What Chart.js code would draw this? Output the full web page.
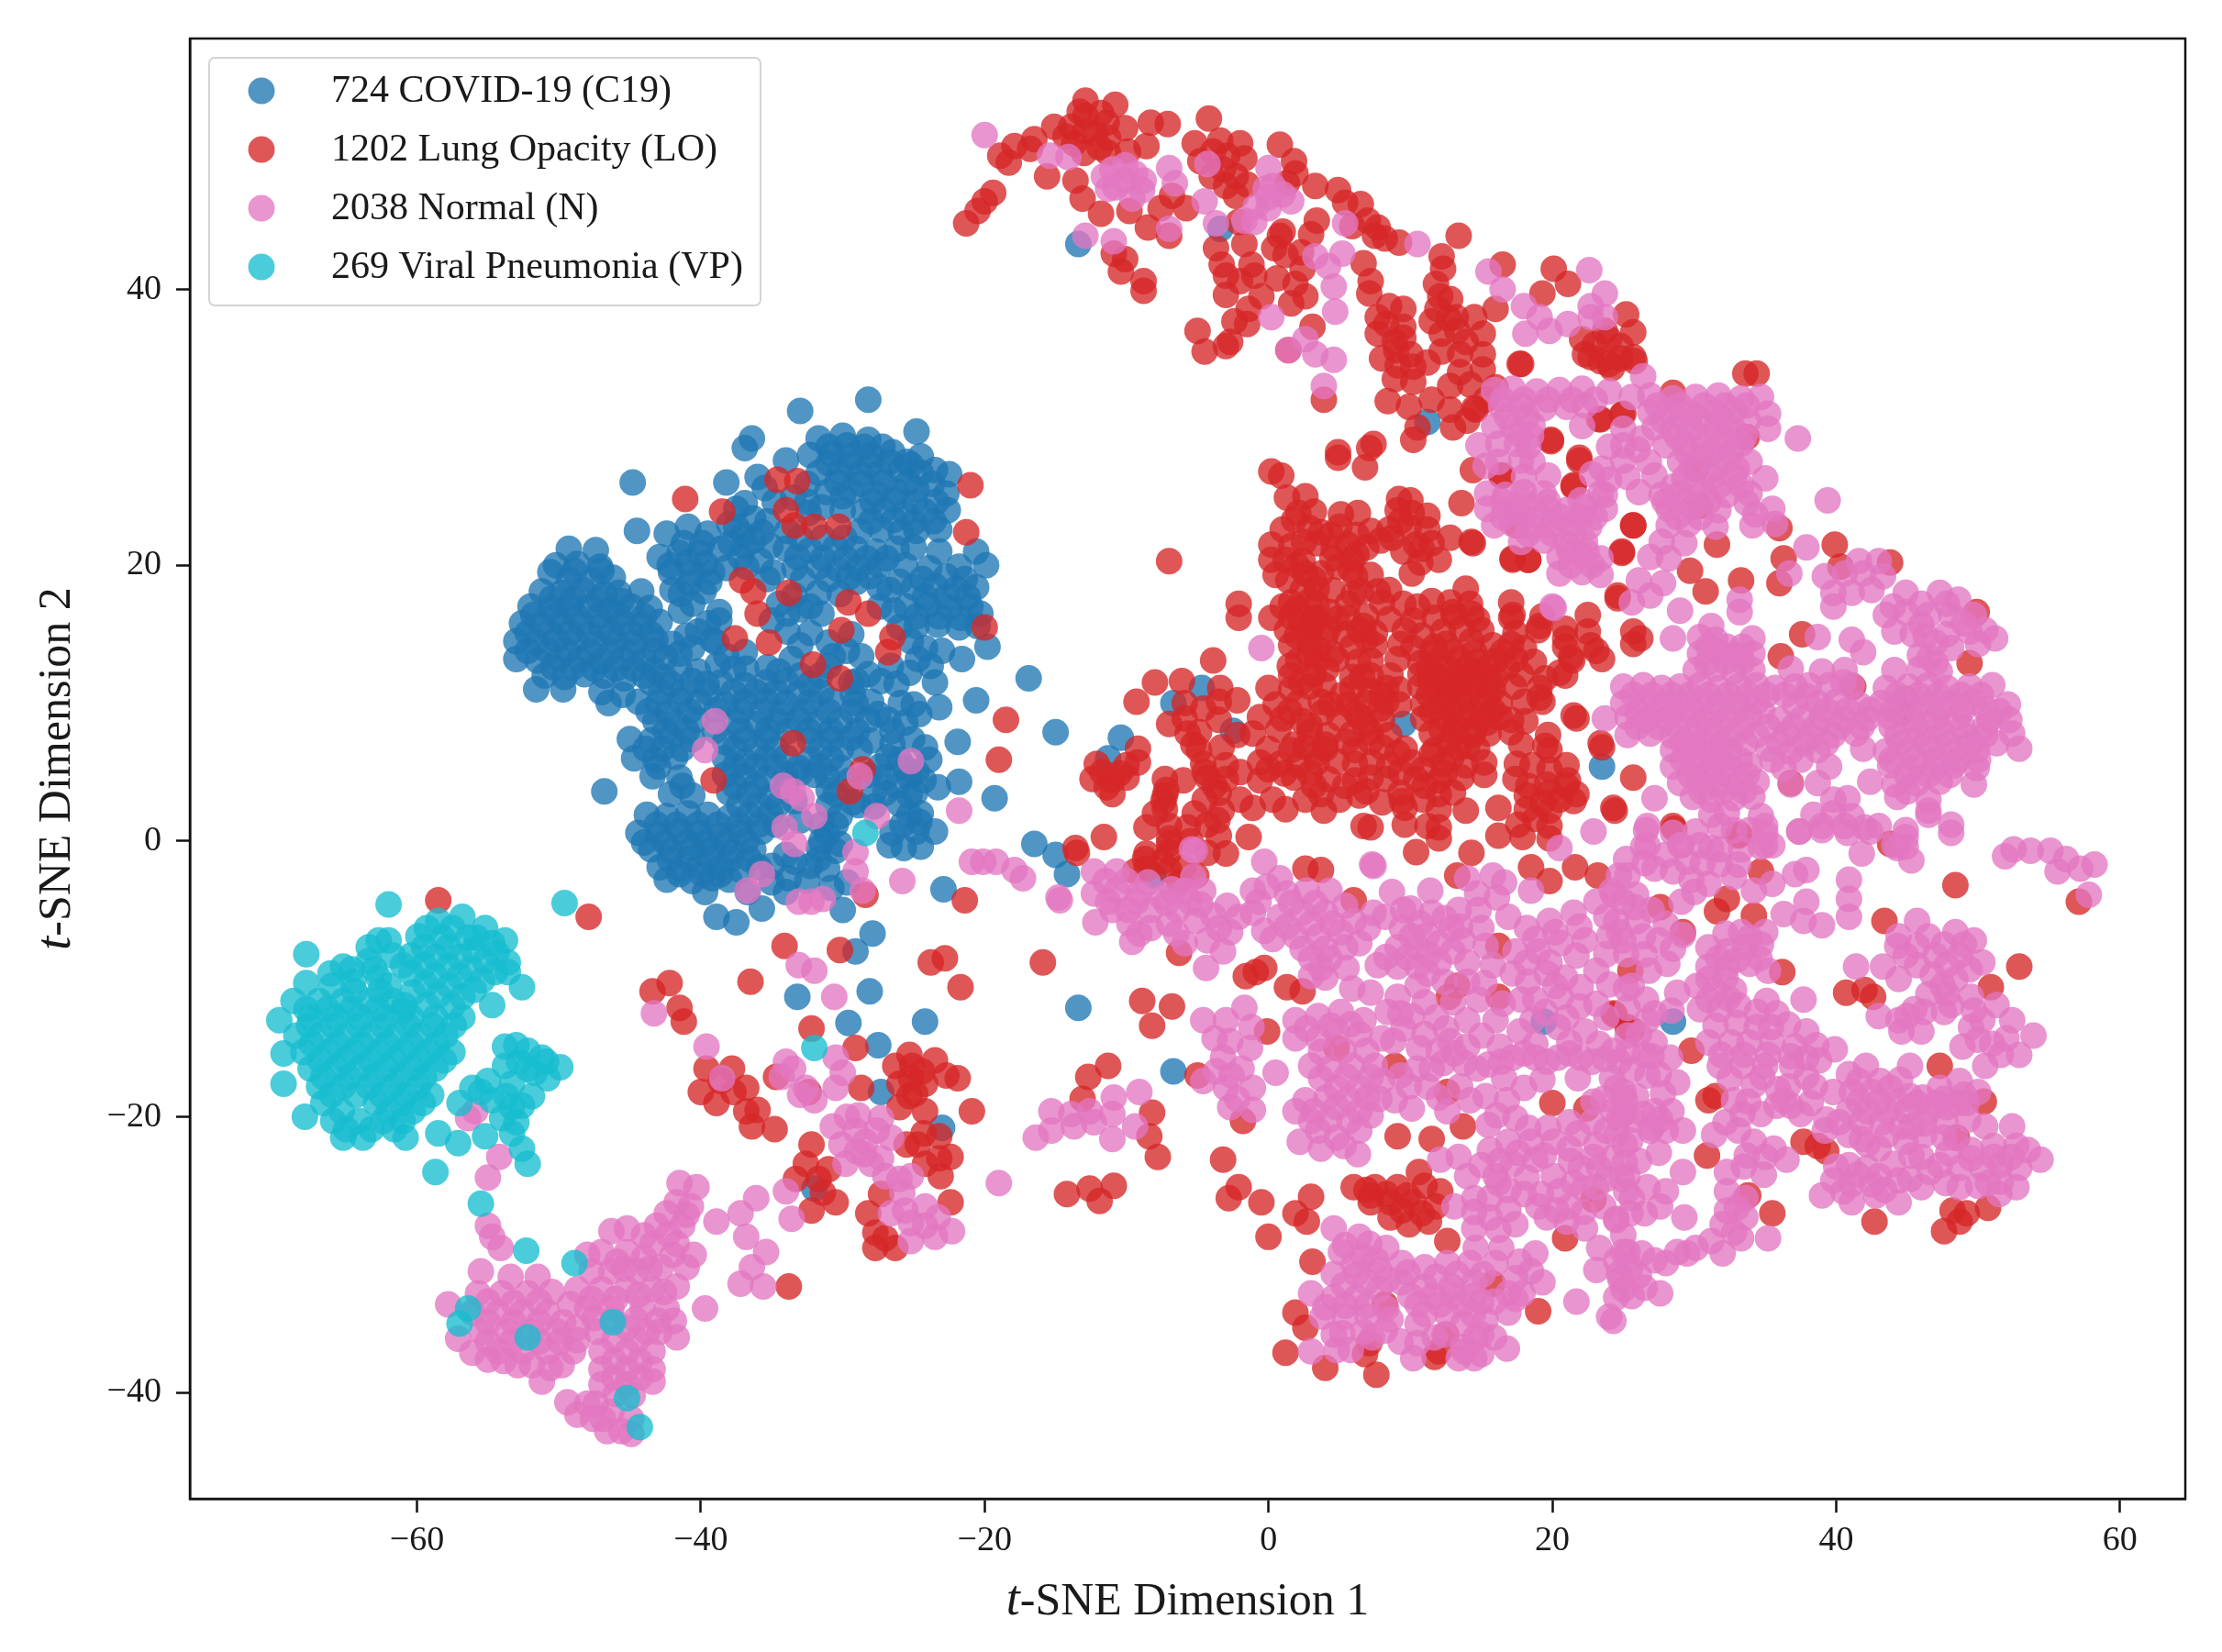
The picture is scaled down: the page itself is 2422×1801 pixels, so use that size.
<!DOCTYPE html>
<html>
<head>
<meta charset="utf-8">
<title>t-SNE Dimension plot</title>
<script src="https://cdn.jsdelivr.net/npm/chart.js@4/dist/chart.umd.js"></script>
<style>
    html, body { margin: 0; padding: 0; background: #fff; }
    canvas { display: block; }
</style>
</head>
<body>
<canvas id="chart" width="2422" height="1801"></canvas>
<script>
// Values, in t-SNE units
const xTicks = [-60, -40, -20, 0, 20, 40, 60];
const yTicks = [-40, -20, 0, 20, 40];
const seriesLabels = ['724 COVID-19 (C19)', '1202 Lung Opacity (LO)', '2038 Normal (N)', '269 Viral Pneumonia (VP)'];

const covidPoints = [
[-44.8,26],[-44.5,22.5],[-38.2,26],[-36.4,29.2],[-36.9,28.5],[-33,31.2],[-28.2,32],[-24.8,29.7],[-34,27.6],[-36,26.4],
[-49.3,21.2],[-47.4,21.1],[-50.2,20],[-48.7,20.1],[-47.1,19.9],[-49.3,19],[-47.7,18.9],[-46.2,19.1],
[-51.2,18.1],[-49.8,18],[-48.3,18.2],[-46.8,17.9],[-45.8,18],[-44.2,18.1],[-52,17],[-50.6,16.9],[-49.2,17.1],[-47.8,17],[-46.4,16.8],[-44.9,17],[-43.6,16.9],
[-52.6,15.8],[-51.2,15.7],[-49.8,15.9],[-48.4,15.8],[-47,15.6],[-45.6,15.8],[-44.2,15.7],[-42.9,15.9],
[-53,14.5],[-51.6,14.4],[-50.2,14.6],[-48.8,14.5],[-47.4,14.3],[-46,14.5],[-44.6,14.4],[-43.2,14.6],[-42,14.3],
[-53,13.2],[-51.5,13.1],[-50,13.3],[-48.5,13.2],[-47,13],[-45.5,13.2],[-44,13.1],[-42.5,13.3],[-40.6,14],
[-51,12],[-49.6,11.9],[-48.2,12.1],[-46.8,12],[-45.4,11.8],[-44,12],[-42.6,11.9],[-51.6,11],[-49.7,11],[-47,10.8],[-45.5,10.6],[-46.5,10],[-46.8,3.6],
[-50.6,19.5],[-48.9,19.6],[-47,19.6],[-50.5,17.6],[-49,17.6],[-47.2,17.5],[-45.6,17.4],[-51.8,16.4],[-50.2,16.4],[-48.8,16.4],[-47.2,16.3],[-45.8,16.4],[-44,16.3],[-52.2,15.1],[-50.6,15.1],[-49.2,15.1],[-47.8,15],[-46.3,15.1],[-44.9,15.1],[-43.5,15],[-52.2,13.8],[-50.8,13.8],[-49.4,13.8],[-47.8,13.7],[-46.3,13.8],[-44.8,13.7],[-43.2,13.8],[-41.5,13.6],[-50.4,12.6],[-49,12.6],[-47.5,12.5],[-46,12.5],[-44.7,12.5],[-43.3,12.4],[-41.5,12.5],[-40.2,12.3],
[-42.4,22.3],[-40.9,22.8],[-39.5,22.3],[-42.9,20.6],[-41.5,20.9],[-40.1,20.9],[-38.6,21.2],[-42.1,19.5],[-40.6,19.4],[-39.2,19.5],[-37.2,20.6],[-41.4,17.9],[-39.8,18.1],[-41.4,16.7],[-38.7,16.6],[-38.7,16],
[-41.2,21.6],[-39.9,21.6],[-42.2,20],[-40.9,20.2],[-39.7,20.1],[-38.2,19.8],[-40.8,18.7],[-39.4,18.8],[-42,18.2],[-40.6,17.2],[-35.7,22.4],[-35.3,23.2],[-37.5,24.1],
[-36.9,24.5],[-36.3,23.4],[-37.5,22.8],[-35.1,21.4],[-36.9,21.4],[-34.9,19.5],
[-31.7,29.2],[-30,29.4],[-28.2,29.1],[-32.3,28],[-30.8,28.1],[-29.4,27.9],[-28,28],[-26.5,28.2],[-24.5,27.9],
[-31.7,26.7],[-30.2,26.8],[-28.8,26.6],[-27.4,26.7],[-25.9,26.9],[-24.5,26.7],[-22.5,26.6],
[-31.1,25.3],[-29.4,25.4],[-27.7,25.2],[-26.2,25.3],[-24.8,25.5],[-22.7,25.2],[-28.5,23.9],[-27.1,24],[-25.6,23.8],[-24.2,23.9],[-22.6,24],
[-28.8,22.5],[-27.3,22.6],[-25.9,22.4],[-24.8,22.5],[-23.2,22.6],
[-34,21.2],[-32.3,21.1],[-30.5,21.3],[-29.1,21.2],[-27.7,21],[-26.2,21.2],[-25,21.3],[-23.2,21],
[-33.4,19.8],[-31.7,19.9],[-30.3,19.7],[-28.9,19.8],[-27.4,20],[-19.9,20],[-20.6,21],[-27.4,18.4],
[-31,28.6],[-29.7,28.7],[-28.5,28.6],[-27.2,28.6],[-25.5,27.5],[-31,27.4],[-29.5,27.3],[-28.1,27.3],[-26.7,27.5],[-25.2,27.3],[-23.5,26.9],[-30.4,26],[-28.7,25.9],[-27.1,26],[-25.4,26],[-23.7,25.9],[-27.9,24.6],[-26.4,24.7],[-24.9,24.6],[-23.4,24.6],[-28,23.2],[-26.4,23.3],[-25,23.1],[-23.6,23.2],[-33.2,20.6],[-31.4,20.5],[-29.8,20.5],[-28.3,20.5],[-26.9,20.5],[-25.6,20],[-32.8,19],[-31,19],[-29.6,19.1],[-28.1,19.2],[-33,16.8],[-31.5,16.5],[-31,14.4],[-29.7,13.8],[-33,14.2],[-34.5,12.3],[-33,12],[-29,11.6],
[-34.8,24.6],[-33.5,24.9],[-35.5,25.6],[-32.5,24.6],[-31.5,24.2],[-30,24],[-32.4,23.8],[-30,25],[-32.5,25.9],[-33.9,22.5],[-33,22],[-31.4,22],[-29.9,22],[-36.3,21.8],[-37.9,21.6],[-38,23],[-37,22.2],[-35.3,19],[-36.8,19.9],[-35.8,20.3],[-34.5,17.2],[-35,16],[-33.9,16.5],[-32.3,17],[-30.2,17.9],[-29,18.8],[-26.7,18.2],[-27.4,17],[-26,18.8],[-26.4,16.7],[-25.2,14.5],[-26,15.5],[-24.7,13.2],[-23,13.8],[-23.8,12.7],[-26.6,12.7],[-27.3,11.6],[-31,12.7],[-31.6,12],[-36.8,12.5],[-37.7,12.5],[-38.8,12.8],[-39.6,11.4],[-39.5,15.8],[-40.2,15.2],[-39.2,14.6],[-38.9,14.4],[-41,14.9],
[-23.9,19.8],[-21.8,19.9],[-25,18.4],[-23.5,18.5],[-22,18.3],[-20.6,18.4],[-25.5,17],[-24,17.1],[-22.5,16.9],[-21,17],[-24.8,15.6],[-23.3,15.7],[-21.8,15.5],[-20.5,15.6],
[-24.4,19],[-22.7,19.2],[-21.4,19],[-24.2,17.7],[-22.7,17.7],[-21.2,17.7],[-24.8,16.3],[-23.2,16.3],[-21.7,16.2],[-20.3,16.5],
[-33.4,17.8],[-31.7,18],[-33.9,15.2],[-32.3,15.1],[-29.4,15],[-38.2,13.4],[-36.9,13.7],[-35.3,12.6],[-33.6,13.2],[-30.7,13.4],[-28.7,13.4],[-28.2,12.1],
[-43.5,11.5],[-42.1,11.4],[-40.6,11.6],[-38.6,11.5],[-36.9,11.3],[-35.4,11.5],[-34,11.6],[-32.3,11.4],[-29.4,11.5],[-26.2,11.4],
[-44.4,10.1],[-43,10],[-41.5,10.2],[-40.1,10.1],[-38.3,9.9],[-36.9,10.1],[-35.4,10.2],[-34,10],[-32.3,10.1],[-30.8,10.2],[-29.1,10],[-28,10.1],[-25.9,10],
[-43.2,8.7],[-41.8,8.6],[-40.3,8.8],[-37.5,8.7],[-36,8.5],[-34.6,8.7],[-33.1,8.8],[-31.7,8.6],[-30.2,8.7],[-28.2,8.8],[-25.6,8.6],
[-45,7.4],[-43.5,7.3],[-42.1,7.5],[-40.6,7.4],[-38.3,7.2],[-36.9,7.4],[-35.4,7.5],[-32.3,7.3],[-30.8,7.4],[-29.4,7.5],[-28,7.3],[-25.1,7.4],
[-44.7,6],[-43.2,5.9],[-41.8,6.1],[-38.3,6],[-36.9,5.8],[-35.4,6],[-34,6.1],[-32.3,5.9],[-30.8,6],[-26.8,6.1],[-23.9,5.9],
[-43.4,4.7],[-41.5,4.6],[-38.3,4.8],[-36.9,4.7],[-35.4,4.5],[-31.1,4.7],[-28.2,4.8],[-27,4.6],[-25.3,4.7],
[-42.1,3.4],[-40.6,3.3],[-38,3.5],[-36.6,3.4],[-35.1,3.2],[-30.5,3.4],[-27,3.5],[-25.3,3.3],
[-43.8,1.9],[-42.4,1.8],[-40.9,2],[-39.5,1.9],[-38,1.7],[-36.6,1.9],[-35.1,2],[-30.2,1.8],[-25.3,1.9],[-24.5,2],
[-44.4,0.6],[-43,0.5],[-41.5,0.7],[-40.1,0.6],[-38.6,0.4],[-37.2,0.6],[-35.7,0.7],[-31.1,0.5],[-26.5,0.6],[-24.8,0.7],
[-43.5,-0.6],[-42.1,-0.7],[-40.6,-0.5],[-39.2,-0.6],[-37.8,-0.8],[-36.3,-0.6],[-31.7,-0.5],[-30.5,-0.7],
[-42.9,-1.9],[-41.5,-2],[-40.1,-1.8],[-38.6,-1.9],[-37.2,-2.1],[-35.9,-1.9],[-32.3,-1.8],[-31.1,-2],
[-42.4,-2.8],[-40.6,-2.9],[-39.2,-2.7],[-38,-2.8],[-32.5,-2.9],[-39.7,-3.7],[-36.7,-3.7],[-34,-3.7],[-35.7,-4.9],
[-42.8,10.8],[-41.3,10.8],[-39.5,10.8],[-37.7,10.8],[-36.1,10.8],[-34.7,10.8],[-33.1,10.7],[-31.5,10.8],[-29.3,10.7],[-43.7,9.4],[-42.3,9.3],[-40.8,9.4],[-38.9,9.5],[-37.2,9.4],[-35.7,9.4],[-34.3,9.3],[-32.7,9.4],[-31,9.4],[-29.3,9.4],[-27.5,9.2],[-26.8,8.8],[-42.5,8],[-41,8],[-39,8],[-37.2,8],[-35.3,8],[-33.8,8],[-32.4,8],[-30.8,8],[-29,8],[-26.5,8],
[-43.9,6.7],[-42.7,6.7],[-41.3,6.7],[-37.6,6.7],[-36.1,6.7],[-34.7,6.7],[-31.6,6.7],[-30.1,6.7],[-28.8,6.7],[-26.5,7],[-37.6,5.4],[-36.1,5.4],[-34.7,5.4],[-33.1,5.3],[-31.6,5.4],[-30.1,5.3],[-43,5.4],[-27.4,5.4],[-25.6,5.3],[-37.6,4],[-36.1,4],[-34,4.8],[-33,4.9],[-32,4.8],[-31,3.7],[-29.5,4.4],[-26.2,4],[-41.3,4],[-37.3,2.6],[-35.9,2.6],[-34.5,2.7],[-31,2.6],[-29.3,2.8],[-26,2.7],
[-43.1,1.2],[-41.7,1.2],[-40.2,1.2],[-38.8,1.2],[-37.3,1.2],[-35.9,1.2],[-34.7,1.2],[-31.5,1.2],[-30.5,1.2],[-25.8,1.2],[-44,-0.1],[-42.5,-0.1],[-41,-0.1],[-39.6,-0.1],[-38.2,-0.1],[-36.8,0],[-31.5,0],[-42.2,-1.3],[-40.8,-1.3],[-39.4,-1.2],[-37.9,-1.3],[-36.6,-1.3],[-31.7,-1.3],[-41.5,-2.4],[-39.9,-2.4],[-38.6,-2.4],[-35,-3],
[-34,4],[-33.4,2.9],[-33,1.5],[-34,-1],[-35,-1.8],[-33.4,-1.5],[-33.8,-2.7],[-30.2,-0.2],[-29.7,-3],[-30.8,-3.4],[-27.8,3.5],[-27.8,2.5],[-28.9,2.6],[-24.9,3.5],[-24.3,4.4],[-24.2,6.8],[-26,5.9],[-24.6,9.2],[-25,9.9],[-24.8,5],[-23.5,0.7],[-24.6,1.4],[-26.7,-0.3],[-25.7,-0.5],[-24.5,-0.4],
[-16.9,11.8],[-20.6,10.2],[-15,7.9],[-21.9,7.2],[-21.8,4.3],[-23.3,3.9],[-19.3,3.1],[-16.5,-0.2],[-15,-1],[-14.2,-2.4],[-22.9,-3.5],[-30,-5],[-27.9,-6.7],[-38.9,-5.5],[-37.5,-5.9],
[-23.5,11.5],[-23.2,9.7],[-21.6,13.2],[-19.8,14.1],[-25.3,12.2],[-24.2,14],
[-33.2,-11.3],[-28.1,-10.9],[-29.6,-13.2],[-24.2,-13.1],[-27.5,-14.8],[-29.1,-8],[-27.3,-18.2],[-23,-20.8],[-32,-25.2],
[-13.4,-12.1],[-6.7,-16.7],[-6.7,10],[-4.7,11.1],[-10.4,7.5],[-11.3,6],[9.5,8.5],[-2.5,8],[23.5,5.4],[28.5,-13.1],[19.4,-13.1],[-8.1,-2.5],[-3.4,44.4],[11.2,30.4],[-13.4,43.3]
];

const opacityPoints = [
[-41.1,24.8],[-38.5,23.9],[-34.6,26.2],[-33.2,26.1],[-34,24],[-33.4,22.9],[-32,22.8],[-30.3,22.8],[-37.1,18.9],[-36.3,18.1],[-36,16.5],[-37.6,14.7],[-35.2,14.4],[-33.8,18],[-29.6,17.3],[-28.2,16.5],[-26.5,14.8],[-26.8,13.7],[-30.1,15.3],[-32.1,12.8],[-30.2,11.8],[-21,25.8],[-21.3,22.4],[-20,15.5],[-33.5,7.1],[-39.1,4.4],[-28.6,5.2],[-29.5,3.6],[-18.5,8.8],[-19,5.9],[-13.6,-0.5],[-58.5,-4.3],[-47.9,-5.5],
[-43.4,-10.9],[-42.2,-10.3],[-41.5,-12.1],[-41.2,-13.1],[-36.5,-10.2],[-34.1,-7.6],[-30.2,-7.9],[-23.8,-8.8],[-22.8,-8.5],[-21.7,-10.6],[-32.2,-13.6],[-29.1,-15],[-21.4,-4.3],[-28.4,-3.9],
[-39.6,-16.5],[-37.8,-16.5],[-40,-18.2],[-38.9,-19],[-36.8,-17.9],[-36.8,-19.6],[-36.4,-20.7],[-34.8,-20.9],[-34.7,-17.1],[-32.4,-18.2],[-28.7,-17.9],[-26.3,-16.3],[-25.1,-16.3],[-23.5,-15.9],[-21.9,-17.2],[-26,-17.6],[-24.2,-17.6],[-26,-19.3],[-24.2,-19.6],[-20.9,-19.6],
[-32.2,-22],[-24.7,-22],[-22.4,-22.9],[-33.3,-24.5],[-24.2,-23.4],[-23.1,-24.3],[-32.6,-23.4],[-30.5,-26.2],[-32.2,-26.8],[-27.7,-28.4],[-27.7,-29.5],[-26.3,-29.5],[-22.4,-26.2],[-27.3,-25.6],[-33.8,-32.3],
[-25.3,-15.5],[-25.2,-17.2],[-24.4,-16.7],[-22.7,-17],[-25.3,-18.5],[-24.9,-18.3],[-23.2,-21.4],[-24.3,-21.2],[-23.2,-23],[-25.5,-22],[-27,-28.8],[-28.2,-27],[-31.4,-25.5],[-31,-23.8],[-31.7,-24.5],[-38.6,-17.4],[-37.7,-18.2],[-36,-19.5],
[-18.9,49.7],[-17.9,50.4],[-16.5,50.9],[-15.1,51.8],[-12.9,53.7],[-10.8,53.4],[-12.9,52.6],[-11.4,52.1],[-12.9,51.5],[-11.3,51],[-10.1,51.7],[-8.3,52.1],[-7.1,52],[-8.6,50.4],[-4.2,52.4],[-13.7,50.6],[-15.6,48.2],[-13.6,47.9],[-5.2,50.6],[-3.4,50.8],[-2,50.6],[-4.8,49.3],[-1.7,49.5],[-4,48.2],[-2.3,48.2],[-2.3,46.8],[0.8,50.5],[1.8,49.3],[1.9,48.4],[3.3,47.5],[4.9,47.2],[5.4,46.3],[3.4,45],[7,45],[7.5,43.9],[9.2,43.4],[13.4,43.9],
[-13.3,52.9],[-11.8,52.8],[-12.2,51.3],[-11.9,50.3],[-13.9,51.8],[-13,49.9],[-11.3,49.9],[-9.9,50],[-14.3,51.1],[-16.8,50.2],[-18.3,49.2],[-3.9,50],[-2.9,49.7],[-3.2,48.7],[-3,47.5],[-1.5,47.6],[1.3,47.7],[7.7,44.5],[8.2,43.7],[5.9,44.6],
[-13.1,46.6],[-11.8,45.5],[-9.8,45.7],[-7.6,45.9],[-5.8,45.9],[-7,43.9],[-1.7,43.3],[1,44.2],[0.4,43],[-1.2,41.8],[-3.3,41.8],[-10.9,42.6],[-10.1,42.2],[-8.8,40.6],[-8.8,39.9],[-21.3,44.8],[-20.5,45.7],[-19.4,47],[-20,46.4],
[-3,39.6],[-1.4,38.6],[-2.4,37.7],[-2.7,36.2],[-4.5,35.5],[0.6,40.8],[1.9,40.4],[2.6,39.5],[1.6,39],[3.1,37.3],[1.4,35.6],[3.9,32],
[-6.8,46.8],[-8.5,44.5],[-10.4,41.3],[-2.1,44.9],[-3.7,43],[-3,41],[-2,40.6],[2.3,42.7],[2.4,41.5],[6.5,46.2],[3,44],[6.7,41.9],[7.7,38],[8,35],[9.1,34.5],[-5,37],[-3,35.9],[-1.5,37.5],[-0.5,39.5],[-1,41],
[7.2,40.6],[7.1,39.7],[8.5,38.8],[9.5,38.6],[7.7,36.8],[8.9,36.2],[9.5,37.3],[10.2,34.4],[12.2,42.4],[12.3,41.5],[11.8,40.4],[12.8,39.3],[11.5,37.7],[13.2,38],[14.5,38],[12.2,36.8],[15.1,36.8],[12.2,35.5],[13.5,35.3],[15.1,35.3],[15.1,34.2],[8.9,33.5],[10.2,33.3],[12.8,33],[12.8,31.3],[8.4,31.9],[9.9,31.5],[11.5,32],[14.5,31.4],[16,32.9],[16,38.6],[16.5,41.8],[17.8,34.6],
[1.2,42.5],[0.8,43.9],[12.1,39.5],[12.7,37.9],[13.3,37],[13.9,36.2],[11.9,38.6],[13.5,34],[11.2,34.7],[14.2,33.1],[10.5,30],[9.5,36.5],[9,35.6],[8.3,37.5],[10,35.3],[15.3,32],[14,30.5],[13,30],[23,36],[24.8,35.9],[23.7,37],
[20.1,41.5],[21.1,40.4],[19.3,39.7],[25.2,38.2],[25.7,36.9],[22.1,36.4],[24,36.4],[22.7,35.1],[24,34.6],[25.7,35.1],[25,31],[23.4,30.6],[19.9,29.1],[10.2,29.1],[7.4,28.8],[4.9,28.2],
[-7,20.3],[0.2,26.8],[0.9,26.5],[4.9,27.8],[7.1,28.5],[6.8,27.1],[-2.1,16.2],[-3.9,13.1],[-8,11.5],[-9.3,10.1],[-6.1,11.6],[-3.4,11.1],[-2.2,10.2],
[13.6,24.5],[14.3,21.7],[17.2,20.5],[18.3,20.4],[16.5,26.5],[21.5,25.8],[21.9,27.8],[25.7,22.9],[24.9,21],[24.6,17.8],
[1.3,24.9],[2.6,25],[9.2,24.8],[2.1,23.8],[3.2,23.9],[5.1,23.7],[6.3,23.8],[9.1,24],[10.1,23.8],
[1,22.6],[2.9,22.7],[7.2,22.5],[8.5,22.6],[9.9,22.8],[11.2,22.6],[0.2,21.5],[1.6,21.4],[3.4,21.6],[5.6,21.5],[6.9,21.3],[10.4,21.5],[11.5,21.6],
[0.2,20.4],[2.4,20.3],[4.5,20.5],[5.9,20.4],[10.7,20.2],[12,20.4],[0.5,19.3],[3.7,19.4],[6.1,19.2],[7.2,19.3],[10.1,19.4],
[2.4,18.2],[3.4,18.3],[7.7,18.1],[8.5,18.2],[13.9,18.3],[1.6,17.3],[2.9,17.4],[5.6,17.2],[8,17.3],[11.5,17.4],[12.8,17.3],[14.2,17.2],[17.1,17.3],
[0.2,16.2],[1.6,16.3],[3.2,16.1],[5.6,16.2],[6.9,16.3],[8.5,16.1],[11.7,16.2],[13.1,16.3],[14.7,16.1],[17.1,16.2],[19.3,16.3],
[1.3,15.3],[2.9,15.2],[4.2,15.4],[6.4,15.3],[7.5,15.1],[9.6,15.3],[12.3,15.2],[13.6,15.4],[15,15.3],[17.4,15.1],[19,15.3],[20.9,15.4],[22.5,15.2],
[1.6,14.2],[2.9,14.3],[5.9,14.1],[7.5,14.2],[9.3,14.3],[11.7,14.1],[15.8,14.2],[17.1,14.3],[20.9,14.1],[22.7,14.2],[25.7,14.3],
[2.1,13.1],[3.4,13],[4.8,13.2],[7.2,13.1],[10.7,12.9],[12,13.1],[13.4,13.2],[14.7,13],[16,13.1],[17.4,13.2],[18.7,13],[21.4,13.1],[23.5,13.2],
[1.6,12],[3.2,12.1],[5.9,11.9],[7.2,12],[10.7,12.1],[12,11.9],[13.4,12],[14.7,12.1],[16,11.9],[20.9,12],
[0,11.1],[1.6,11],[2.9,11.2],[5.9,11.1],[7.2,10.9],[8.3,11.1],[10.7,11.2],[12,11],[13.4,11.1],[14.7,11.2],[15.8,11],[19.1,11.1],
[-5.9,10],[-3.5,10.1],[0.5,9.9],[2.1,10],[3.7,10.1],[5.6,9.9],[6.9,10],[8.3,10.1],[10.9,9.9],[12.3,10],[13.6,10.1],[15,9.9],[16.3,10],[19.3,10.1],
[-5.9,8.9],[-3.5,8.8],[-0.6,9],[1,8.9],[2.4,8.7],[5,8.9],[6.4,9],[8,8.8],[10.9,8.9],[12.3,9],[13.6,8.8],[15,8.9],[16.3,9],[17.1,8.8],[21.7,8.9],
[-5.7,7.8],[-4.9,7.9],[-2.2,7.7],[-1.1,7.8],[2.9,7.9],[4.2,7.7],[5.9,7.8],[7.2,7.9],[8.5,7.7],[11.5,7.8],[13.1,7.9],[14.4,7.7],[15.5,7.8],[17.1,7.9],[19.7,7.7],
[-9.2,6.7],[-4.9,6.6],[-3.3,6.8],[0,6.7],[1.6,6.6],[2.6,6.8],[4,6.7],[6.1,6.6],[8,6.8],[9.6,6.7],[11.7,6.6],[13.4,6.8],[14.7,6.7],[19.8,6.6],[23.5,6.8],
[-12.1,5.6],[-10,5.5],[-9.2,5.7],[-4.6,5.6],[-3,5.5],[-0.6,5.7],[0.8,5.6],[2.1,5.5],[3.4,5.7],[6.1,5.6],[8.5,5.5],[10.1,5.7],[12.3,5.6],[13.9,5.5],[15.2,5.7],[17.5,5.6],[21,5.5],
[-12.4,4.5],[-11,4.4],[-10,4.6],[-7.3,4.5],[-6,4.4],[-4.3,4.6],[-3,4.5],[-0.6,4.4],[1.8,4.6],[4.2,4.5],[6.1,4.4],[7.2,4.6],[10.4,4.5],[12,4.4],[13.6,4.6],[17.4,4.5],[21.1,4.4],
[-11,3.4],[-7.3,3.3],[-3.5,3.5],[3.7,3.4],[6.4,3.3],[9.3,3.5],[12,3.4],[18.2,3.3],[19.8,3.5],[21.7,3.4],
[-7.3,2.3],[-3.3,2.2],[-1.1,2.4],[1.2,2.3],[3.9,2.2],[9.6,2.4],[12,2.3],[13.9,2.2],[16.2,2.4],[18.2,2.3],[19.8,2.2],[24.3,2.4],
[-7,1.1],[-5.7,1],[-4.3,1.2],[6.7,1.1],[7.2,1],[9.6,1.2],[11.2,1.1],[12,1],[17.6,1.2],[19.8,1.1],
[3.7,22.4],[1.8,23.3],[2,20],[1.4,18.9],[3.2,19],[4.5,18.2],[2.3,15.8],[4,14.8],[3,15.5],[4.8,16.1],[2.9,13.5],[4.1,12.5],[1.5,12.7],[2.3,11.5],[3.9,11.3],[6.3,13],[6.6,11.9],[8,10.6],[7.9,9.6],[5.2,10.6],[4.4,9.9],[6.2,9.3],[3.8,9.3],[1.5,9.4],[2.9,8.4],[0.7,8.1],[5.5,7.2],[7.2,7.2],[6.8,8.4],[4,7],[1.8,7],[3.4,6.3],[4.8,5.8],[7.3,5.7],[9.1,6.4],[9.3,5],[10.9,5.2],[8.3,4.5],[11.5,6.3],[12.9,6.1],[12.7,7.2],[14,6.9],[12.2,8.1],[13.2,8.4],[14.5,8.1],[15.4,8.6],[11.5,9.4],[12.9,9.5],[14.3,9.4],[15.8,9.5],[11.3,10.6],[12.7,10.6],[14,10.5],[15.5,10.6],[11.4,11.6],[12.7,11.5],[14.1,11.6],[15.5,11.6],[11.3,12.6],[12.7,12.5],[14,12.6],[15.4,12.6],[16.8,12.6],[11.5,13.7],[13,13.7],[14.5,13.7],[16.5,13.7],[18,14],[12.5,14.3],[14.3,14.5],[13,16.6],[14.3,16.5],[6.2,22.2],[7.9,21.8],[6.2,20.8],[8.7,22],[9.5,21],[10.8,21.2],[9.3,23.2],[2,16.8],[3.4,17.2],[5.4,15],[6.9,14.7],[-7,8.5],[-4.6,9.6],[-5.3,7],[-4.5,5],[-3.8,4],[-2,5],[0,5.2],[1.1,4.9],[2.9,4.9],[3.2,4],
[5.4,4],[6.9,3.6],[9.4,2.9],[10.9,3],[11,4],[12.4,4.9],[13,3.5],[15.2,4.8],[18.3,4],[19.6,4.1],[21,4],[21.5,2.9],[20.5,3],[19.3,2.8],[18.8,1.6],[-11.7,5],[-10.5,4.9],[-11.4,3.9],[-7.2,3.7],[-7.4,2.9],[-5.2,2],[-3.6,1.5],[-8.7,-1.3],[-7.5,-1.5],[7.2,-25.7],[8.3,-25.6],[9.8,-25.7],[11,-25],[6.9,-25.3],[9.4,-26.8],[10.8,-27],[-2.1,17.2],
[4.4,22.2],[5,22.8],[4.6,21.2],[2.5,21.7],[1.2,20.4],[2.6,19.4],[4.9,19.9],[5.8,19.7],[3.4,16.2],[4.3,16.6],[2,14.9],[4.5,13.6],[6.7,15.6],[6,17.9],[6.5,18.1],[9.5,17.2],[10.5,17],[10.2,16],[10.8,14.9],[10.2,14],[9.1,13.2],[8.6,12],[9.2,11],[9.2,9.9],[17.8,7],[18.1,8.7],[18,10.1],[17.3,11.2],[17.8,12.1],[19.5,11.8],[18.6,5.5],[19.8,5.2],[-4.5,3],[-2,3],[0.3,3],[2.6,3],[5,3],[8,2.8],[-8.6,1],[-8,2],[1,17],[3.5,13.9],[10,24.7],[11.2,23.6],[12.8,22],[-7,-0.2],[-5.5,0],[-9.4,-2.2],[-6.3,-3],
[-11.6,0.3],[-7,0.2],[-3.5,0.4],[-1.4,0.3],[12,0.2],[16.2,0.4],[17.9,0.3],[19.8,0.2],
[-13.5,-0.85],[-8.6,-0.9],[-7,-0.8],[-4.3,-0.85],[-3,-0.9],[10.4,-0.8],[14.3,-0.85],[-8.6,-2],[-7,-2.1],[-6,-1.9],[2.6,-2],[3.7,-2.1],[18.5,-1.9],[19.8,-2.9],[21.6,-1.9],[23.2,-2.5],[13.3,-2.5],[-5.1,-2.5],[6,-4.3],
[23.4,34.8],[24.8,35],[25.8,34.8],[22.3,35.3],[24.2,34.3],[17.7,34.6],[14.6,31.3],[33.6,33.9],[34.4,33.9],[28.5,32.5],[23.3,30.6],[24.9,30.9],[19.9,29],[21.9,27.6],[21.5,25.7],[16.4,26.5],[14.4,26.9],[33.7,29.3],[30.1,27],[30.4,24.3],[25.7,22.9],[31.6,21.5],[24.9,20.9],[36,22.7],[17.2,20.4],[18.3,20.4],[14.4,21.6],[17.5,22.9],
[29.7,19.6],[30.8,18.1],[33.3,18.9],[36.3,20.5],[36,18.7],[39.9,21.5],[40.3,19.9],[43.8,20.2],[24.6,17.6],[25.7,15.2],[26.2,14.7],[22.5,16.4],[17.2,16.4],[19.1,15.6],[20.9,14.7],[23.1,13.8],[21.3,13.3],[20.5,12.2],[19.1,10.4],[21.5,9.1],[19.5,6.9],[23.4,7.1],[37.6,15],[36.1,13.4],[49.4,12.9],[44.6,9.3],[44.9,10.3],[41.2,11.2],[25.7,4.6],[36.8,4.2],[24.4,2.2],[28.6,0.9],[33.2,0.5],[43.8,-0.2],[49.9,16.6],
[48.4,-3.2],[57.1,-4.4],[43.4,-5.8],[52.9,-9.1],[50.9,-10.6],[40.7,-11],[42,-10.8],[42.6,-11.3],[47.3,-16.3],[50.4,-18.9],[37.7,-21.8],[38.7,-22.1],[39.3,-22.5],[48.5,-21.5],[42.7,-27.6],[48.2,-26.8],[49.2,-27],[50.7,-26.6],[47.6,-28.3],[48.7,-27.6],[35.5,-27],[33.8,-25.7],[30.9,-22.8],[31,-18.8],[31.5,-18.5],[29.8,-15.2],[24.4,-12.6],[25.6,-13.7],[36.2,-9.5],[31.6,-5.1],[32.3,-4.2],[34.2,-5.4],[27.6,-4.8],[29.2,-6.6],[25.5,-9.4],[33.1,0.4],[34.7,-2.2],[28.5,1.1],
[-15.9,-8.8],[-6.3,-8.1],[-0.9,-9.5],[-1.6,-9.8],[-0.3,-9.2],[1.3,-10.6],[2.4,-10.9],[16.2,-7.6],[12.7,-11.3],[13.3,-10.5],[16.2,-11.3],[24.3,-12.5],[25.3,-13.5],
[-8.9,-11.6],[-6.8,-12],[-8.2,-13.4],[-11.3,-16.3],[-12.7,-17.1],[-0.1,-13.8],[4.8,-15],[8.9,-16.3],[-5,-17],[-1.8,-20.3],[12.6,-18.2],[20,-19],[22.4,-19.4],[13.7,-20.7],[-13.1,-18.7],[-8.2,-19.7],[-8.4,-21.4],[-7.8,-22.9],[9.1,-21.4],[11.5,-21.6],
[-3.2,-23.1],[-2.1,-25.1],[-2.8,-25.9],[-0.5,-26.2],[-14.2,-25.6],[-12.6,-25.2],[-11.9,-26.1],[-10.9,-25],[0,-28.7],[3,-25.8],[1.9,-27],[2.7,-27.6],[3.1,-30.5],
[6,-25.1],[7.5,-25.1],[9.1,-25.1],[10.6,-24],[12.1,-25.4],[7.2,-26.2],[8.6,-26.2],[10.2,-26.2],[11.8,-26.5],[8.6,-27.3],[9.9,-27.8],[11.3,-27.6],[12.6,-29],
[15.8,-32.1],[19,-34.1],[1.9,-34.2],[2.6,-35.3],[1.2,-37.1],[4,-38.2],[6.8,-37.2],[7.1,-36.4],[7.6,-38.7],[12.5,-35.8],[12,-37],[11.7,-37.4],[20.9,-28.8],[22.9,-26],[8.2,-33.6]
];

const normalPoints = [
[-39,8.7],[-39.7,6.6],[-34.2,4],[-33.5,3.6],[-32.9,3.1],[-32,1.8],[-34.1,1],[-33.4,-0.2],[-28.8,4.7],[-25.2,5.8],[-27.6,1.8],[-21.8,2.2],[-29.1,-0.8],[-29.1,-2.2],[-28.6,-3.6],[-35.7,-2.4],[-36.7,-3.6],[-32.2,-4.4],[-33.1,-4.4],[-31.4,-4.2],[-20.1,-1.5],[-20.9,-1.5],[-19.2,-1.5],[-17.9,-2.1],[-17.3,-2.7],[-25.8,-2.9],[-14.8,-4.1],
[-43.3,-12.5],[-39.6,-14.9],[-38.5,-17.2],[-34.3,-17.1],[-33.5,-16.5],[-32.6,-17.9],[-32,-18.8],[-33.1,-9],[-32,-9.4],[-30.6,-11.3],[-30.5,-15.7],[-30,-16.8],[-30.5,-17.9],[-33.6,-27.4],[-34,-25.4],[-19,-24.8],
[-28.9,-19.9],[-30.7,-20.7],[-29.1,-21],[-27.3,-20.1],[-30.1,-22],[-28.4,-21.8],[-26.6,-21.5],[-29.8,-23.4],[-28,-23.4],[-26,-24.5],[-27,-24.3],[-25.2,-24.3],[-26.6,-27],[-24.2,-26.5],[-24.2,-27.9],[-25.2,-29],[-22.3,-28.3],[-23.5,-28.7],
[-28.5,-22.7],[-27.3,-23],[-29,-22.5],[-29.7,-20],[-27.6,-21],[-25.8,-25.5],[-25.6,-26.8],[-23.3,-27.3],[-25.2,-27.7],[-34,-16],[-33,-18.4],
[-56.4,-20.1],[-55.9,-19.6],[-54.2,-22.9],[-55,-24.4],[-55,-27.9],[-54.7,-28.7],[-54.1,-29.5],
[-55.5,-31.2],[-53.4,-31.6],[-51.5,-31.6],[-55.7,-32.8],[-54,-32.8],[-52.2,-32.8],[-50.5,-32.7],[-57.8,-33.6],[-56.1,-34.2],[-54.3,-34.2],[-52.6,-34.2],[-50.8,-34.2],[-57.1,-36.1],[-55.4,-35.6],[-53.6,-35.6],[-51.9,-35.6],[-50.1,-35.6],[-56.1,-37.1],[-54.3,-37],[-52.6,-37],[-50.8,-37],[-49,-37],[-55,-37.6],[-52.9,-38],[-51.2,-39.2],[-49.8,-38],
[-55,-33.4],[-53.2,-33.5],[-51.4,-33.4],[-55,-34.9],[-53.2,-34.9],[-51.4,-34.9],[-49.7,-34.9],[-55,-36.3],[-53.3,-36.3],[-51.4,-36.3],[-49.9,-36.3],[-53.9,-37.7],[-51.9,-38],[-50.6,-38.2],[-48.7,-36.2],[-49.2,-33.6],[-47.7,-31.2],[-45.4,-31],[-43.6,-31],[-42,-30],[-47.7,-33.2],[-46,-33.2],[-44.4,-32.9],[-42.6,-32.7],[-47.5,-34.6],[-46.2,-34.7],[-44.6,-34.7],[-43,-34.8],[-46.1,-36.2],[-44.5,-36.2],[-42.9,-35.6],[-46.1,-37.7],[-44.3,-37.7],[-46.1,-38.9],[-44.3,-38.9],[-46,-40.1],[-44.8,-40.2],[-48,-40.8],[-47.4,-40.8],[-46.9,-41.9],[-44,-28.6],[-42.3,-28.5],[-45.9,-30.5],[-44,-30.2],[-41,-27.1],
[-46.3,-28.3],[-45.2,-28.1],[-43.1,-27.9],[-41.3,-27.9],[-47,-29.8],[-45.2,-29.8],[-43.4,-29.2],[-41.7,-29.2],[-48,-30],[-46.3,-31.2],[-44.5,-31.2],[-42.8,-30.9],[-41,-30.9],[-40.5,-30],[-48.7,-32.5],[-47,-32.5],[-45.2,-32.5],[-43.4,-32.5],[-41.7,-32.3],[-48,-33.9],[-46.3,-33.9],[-44.1,-33.9],[-42.4,-33.9],[-48.7,-35.3],[-47.3,-35.6],[-45.2,-35.3],[-43.8,-35.6],[-41.9,-34.8],[-41.7,-36],[-39.7,-33.9],
[-41.5,-24.8],[-40.3,-25.1],[-41.7,-26.2],[-40.7,-26.5],[-42.4,-27],[-47,-37],[-45.2,-37],[-43.4,-37],[-47,-38.3],[-45.2,-38.3],[-43.4,-38.3],[-47,-39.4],[-45.2,-39.4],[-43.4,-39.2],[-49.4,-40.7],[-48.7,-41.6],[-47.6,-41.9],[-46.6,-42.8],[-45.6,-42.8],[-46.3,-41.4],[-44.9,-41.9],[-44.9,-43],
[-38.9,-27.6],[-36.1,-25.9],[-37.2,-27],[-36.8,-28.7],[-35.4,-29.8],[-36.4,-30.9],[-37.2,-32.1],[-35.6,-32.3],
[-20,51.2],[-15.4,49.7],[-14.1,49.6],[-11.6,48.2],[-10.1,49],[-10.1,47.9],[-8.8,47.9],[-11.3,47.3],[-9.6,46.6],[-7,48.8],[-6.6,47.7],[-4.3,49.1],[-4.5,46.4],[0,48.8],[0.3,47.5],[1.6,46.4],[0,45.9],[-1.7,45],[-3.7,44.8],[5.4,44.8],[-12.9,43.9],[-10.9,43.5],[-7,44.4],
[-11,48.7],[-9.4,48.4],[-10.8,47.4],[-8.9,47.2],[-0.2,47.3],[1,46.9],[-0.9,46],[-1,44.9],[0,46.7],
[3.3,42.4],[5.2,42.6],[4.2,41.7],[4.6,40.2],[4.7,38.4],[0.2,38],[2.6,36.4],[1.4,35.6],[3.3,35.3],[4.6,34.9],[3.9,33],[10.5,43.3],
[15.5,41.3],[16.5,40],[22.6,41.4],[18,38.8],[19.1,38],[18.1,36.8],[19.8,37],[21.1,37.5],[22.7,38.8],[23.7,39.7],[22.7,38],[23.7,38],[26.4,33.7],
[15.9,32.7],[17.2,32.8],[18.9,32.6],[20.5,32.7],[22.1,32.8],[24,32.6],[16.4,31.5],[17.8,31.6],[19.4,31.4],[21,31.5],[22.3,31.6],[15.9,30.1],[17.2,30],[18.6,30.2],[22.1,30.1],[14.8,28.7],[17.5,28.8],[18.3,28.6],[17.8,27.6],[18.6,27.5],[18,26.4],[19.7,26.5],
[16.5,32],[18,32],[19.7,32],[21.4,32],[23,32],[16.8,30.8],[18.2,30.8],[17.7,29.5],[18.5,29.4],[16.5,24.6],[18,24.6],[19.7,24.6],[22,24.7],[16.5,23.5],[18,23.5],[19.2,23.5],[20.6,23.5],[22,23.5],[23,23.5],[18.3,22.3],[20,22.3],[21.5,22.3],[21.2,21],[22.4,21],[21.3,20],[22.8,20],
[15.3,27.2],[16.2,27.5],[16.2,28.8],[23.5,27],[24,26.2],[22.8,26.6],[33.7,24.5],[34.3,23.7],[26.8,27.5],[26,28.4],[26.3,29.2],
[15.4,25.2],[16.7,25.1],[18,25.3],[19.4,25.2],[23.7,25.1],[15.4,24.1],[16.7,24],[18,24.2],[19.7,24.1],[21,24],[22.3,24.2],[23.7,24.1],[15.9,22.9],[17.2,23],[18.6,22.8],[19.9,22.9],[21.3,23],[22.6,22.8],[17.8,21.7],[19.4,21.8],[21,21.6],[22.3,21.7],[20.5,20.6],[22.1,20.7],[23.4,20.5],[20.5,19.4],[22.1,19.5],[23.4,19.3],
[25.6,32.2],[26.9,32.3],[28.5,32.1],[30.1,32.2],[31.7,32.3],[33.3,32.1],[34.7,32.2],[26.9,31.1],[28.2,31.2],[29.8,31],[31.5,31.1],[32.8,31.2],[35.2,31],[25,29.9],[27.2,30],[28.5,29.8],[29.8,29.9],[31.5,30],[32.8,29.8],[35.2,29.9],
[27.4,31.6],[29,31.6],[30.7,31.6],[32.2,31.6],[33.7,31.6],[27.8,30.5],[29.2,30.5],[30.6,30.5],[32.1,30.5],[33.8,30.5],[28.8,29.3],[30.6,29.3],[32.1,29.3],[33.5,29.3],[29.5,28.2],[31.2,28.2],[32.6,28.2],[29.8,27],[31.4,27],[33,27],[30,25.8],[31.8,25.8],[33.3,25.8],[28.5,25.7],[27.9,24.6],[29.3,24.6],[31,24.6],[28.8,23.5],[30.4,23.5],
[28,28.7],[29.3,28.8],[30.6,28.6],[32,28.7],[33.3,28.8],[24,28.6],[25,28.7],[25,27.6],[29,27.5],[30.6,27.7],[32.3,27.6],[33.9,27.5],[25.3,26.4],[27.2,26.5],[29.3,26.3],[31.2,26.4],[32.8,26.5],[35,26.3],
[23.4,25.2],[26.1,25.3],[27.7,25.1],[29,25.2],[30.7,25.3],[32.3,25.1],[33.9,25.2],[28.2,24.1],[29.9,24.2],[31.7,24],[35.5,24.1],[28.2,22.9],[29.6,23],[31.5,22.8],[34.1,22.9],[35.7,23],[27.7,21.7],[29.3,21.6],[26.9,20.6],[28.2,20.5],
[37.3,29.2],[39.4,24.7],[37.9,21.3],[33.2,17.5],[33.2,16.6],[26.1,18.9],[27.8,18.7],[26.9,17.8],[25.6,17.3],[20.1,16.9],[29,16.7],[36.7,19.4],[-0.5,14],[20,17],[7.3,-1.7],[-5.4,-0.6],
[41.6,20.3],[43,20.3],[39.2,19.2],[40.6,19.4],[41.9,19.4],[43.3,19.2],[39.8,18],[41.1,18],[42.5,18.2],[39.8,17],
[44.9,18],[47.3,18],[48.6,17.5],[43.5,16.4],[44.9,16.6],[46.5,16.4],[48.1,16.4],[49.7,16.4],[44.1,15.2],[47.8,15],[49.4,15.2],[51.2,14.7],[48.1,14],[50,14.3],
[44,17],[46,17.2],[47.8,17.2],[46,15.7],[45.4,15],[49,15.8],[50.5,15.3],[46.3,14.9],[47,14.4],[52.2,8.8],[51.5,9.4],[38.1,11.3],[39.5,11.3],[40.5,11.5],
[31.2,15.6],[28.5,14.7],[30.4,14.8],[31.5,14.6],[34.1,14.7],[38.7,14.8],[41.1,14.6],[30.4,13.6],[31.7,13.7],[32.8,13.5],[34.1,13.6],[41.9,13.7],[45.9,13.5],
[30.1,12.4],[31.5,12.5],[32.8,12.3],[34.1,12.4],[36.8,12.5],[39,12.3],[40.6,12.4],[45.9,12.5],[47.3,12.3],[44.1,12.4],
[25,11.2],[26.4,11.3],[27.7,11.1],[29,11.2],[30.4,11.3],[31.7,11.1],[33.1,11.2],[34.4,11.3],[35.7,11.1],[37.1,11.2],[41.1,11.3],[43.5,11.1],[45.1,11.2],[46.5,11.3],[47.8,11.1],[49.4,11.2],[51,11.3],
[25,10],[26.4,10.1],[27.7,9.9],[29,10],[30.4,10.1],[31.7,9.9],[33.1,10],[34.4,10.1],[37.1,9.9],[38.7,10],[40,10.1],[41.6,9.9],[43.2,10],[44.9,10.1],[46.5,9.9],[48.1,10],[49.7,10.1],[52.1,9.9],
[23.7,8.9],[25.3,9],[26.6,8.8],[28,8.9],[29.3,9],[30.7,8.8],[32.3,8.9],[33.9,9],[36,8.8],[37.6,8.9],[39,9],[40.6,8.8],[42.2,8.9],[43.8,9],[45.4,8.8],[47,8.9],[48.6,9],[50.8,8.8],
[25.3,7.7],[26.9,7.8],[28.5,7.6],[29.9,7.7],[31.2,7.8],[32.8,7.6],[34.4,7.7],[36.5,7.8],[38.2,7.6],[39.8,7.7],[41.4,7.8],[44.3,7.6],[45.9,7.7],[47.5,7.8],[49.2,7.6],[50.5,7.7],[52.4,7.8],
[28.5,6.6],[29.9,6.7],[31.2,6.5],[32.5,6.6],[35.2,6.7],[36.8,6.5],[38.7,6.6],[41.9,6.7],[43.5,6.5],[45.1,6.6],[46.7,6.7],[48.3,6.5],[49.9,6.6],[52.9,6.7],
[28.5,5.4],[29.9,5.5],[31.2,5.3],[32.5,5.4],[33.9,5.5],[36.3,5.3],[39.5,5.4],[43.8,5.5],[45.4,5.3],[47,5.4],[48.3,5.5],[49.9,5.3],
[29,4.2],[30.4,4.3],[31.7,4.1],[33.1,4.2],[34.4,4.3],[36.8,4.1],[38.7,4.2],[42.4,4.3],[44.1,4.1],[45.7,4.2],[47.3,4.3],[49.7,4.1],
[25.7,10.6],[27,10.6],[28.4,10.6],[29.7,10.6],[31,10.6],[32.4,10.6],[33.8,10.6],[35.1,10.6],[36.4,10.6],[44.3,10.6],[45.8,10.6],[47.2,10.6],[48.8,10.6],[50.2,10.6],[37.9,10.5],[39.3,9.5],[40.8,9.5],[42.4,9.5],[44,9.5],[45.7,9.5],[47.3,9.5],[48.9,9.5],[50.5,9.6],
[26,9.4],[27.3,9.4],[28.6,9.4],[30,9.4],[31.5,9.4],[33,9.4],[34.8,9.4],[26,8.3],[27.5,8.3],[28.8,8.3],[30.3,8.3],[31.8,8.3],[33.4,8.3],[35.2,8.3],[37,8.3],[38.6,8.3],[40.2,8.3],[41.8,8.3],[43.9,8.3],[45.6,8.3],[47.2,8.3],[48.9,8.3],[50.5,8.3],
[29.2,7.1],[30.5,7.1],[31.9,7.1],[33.6,7.1],[36,7.1],[37.8,7.1],[39.3,7.1],[44.5,7.1],[46.3,7.1],[47.9,7.1],[49.5,7.1],[51.3,7.1],[29.2,5.9],[30.5,5.9],[31.9,5.9],[33.2,5.9],[35.5,5.9],[37.5,5.9],[43.9,5.9],[45.5,5.9],[47,5.9],[48.6,5.9],[50,5.9],[29.7,4.8],[31,4.8],[32.3,4.8],[33.7,4.8],[45,4.8],[46.5,4.8],[48,4.8],[30.5,3.6],[32,3.6],[33.5,3.6],[45,3.6],[30.9,12.9],[32.2,13],[33.4,13],[31,14.1],[32.3,14.1],[33.4,14.1],[47,12.9],[46.6,13.3],
[27.2,3.1],[29.9,3.2],[31.2,3],[32.8,3.1],[34.1,3.2],[39.8,3],[40.8,3.1],[44.3,3.2],[46.5,3],[31.2,1.9],[32.3,2],[34.7,1.8],[38.4,1.9],[39.8,2],[41.1,1.8],[46.5,1.9],
[22.9,0.7],[26.6,0.8],[28.5,0.6],[30.1,0.7],[32.8,0.8],[35,0.6],[37.4,0.7],[39,0.8],[40.8,0.6],[42.4,0.7],[44.9,0.8],[48.1,0.6],[26.4,-0.4],[29,-0.3],[31.2,-0.5],[34.7,-0.4],[35.5,-0.3],[44.3,-0.5],[44.9,-0.4],
[51.9,-1.1],[52.5,-0.6],[53.7,-0.7],[55.1,-0.7],[56.2,-1.3],[55.6,-2.2],[57.2,-2],[58.2,-1.7],[57.8,-3.9],
[37.4,0.7],[39,1.1],[40.6,1.1],[42,1],[43,1.1],[41.8,-0.9],[44.9,0.3],[44.1,-0.3],[45.3,-1.4],[46.5,2.2],[48.1,1.2],
[40.9,-2.8],[40.9,-4.2],[40.9,-5.5],[37.9,-4.4],[36.3,-5.3],[37.7,-5.8],[39,-6.1],[37.1,-2.4],[37.9,-2.1],[35.5,-3.1],[34.2,-3.6],[33.1,-1.7],[31.8,-1.7],[31,-3.1],
[35,1.1],[35,-0.3],[33.9,0.8],[31.8,1.1],[30.4,-0.3],[29.1,-0.3],[26.7,-0.3],[26.7,1.1],[25.3,-2.5],[27.2,-2],[28.5,-2.2],[24.3,-3.9],[25.9,-3.9],[29.1,-4.4],
[29.5,-1.5],[30.6,-1.6],[28,-1],[26.5,-1.6],[25.2,-1.3],[29.8,-2.8],[31.8,-0.6],[33.3,-0.6],[32.8,-2.6],[30,-3.7],[32.2,-6.7],[33.3,-6.6],[33.9,-7],[31.7,-8.5],[33,-8.6],[34.6,-8.5],[31.5,-13.4],[33,-13.2],[35.8,-12.5],[35.4,-13.5],[34.4,-12.4],[33.8,-18.9],[33.4,-19.8],[34.7,-19.8],[32.2,-20.4],[36.3,-18.8],[36.8,-19.2],[33.7,-22.8],[33.5,-23.6],[35.6,-22.3],[37.5,-19.8],[38.5,-17.8],[38.6,-14.8],[38.8,-15.9],
[25.8,-4.8],[27,-5],[26,-5.8],[28,-6],[27.5,-7.2],[28.5,-7.8],[26.5,-8.2],[25.2,-8.2],[26.8,-9.4],[25.3,-12.1],[26.6,-11.5],[27.2,-12.5],[28.4,-12.3],[27,-15.6],[26.7,-17],[27.5,-16.9],[25,-19.8],[27,-20.8],[27.6,-20.2],[28,-21],[25.5,-21.7],
[26.4,-6.9],[25,-7.2],[24,-6.9],[24.5,-5.8],[29.2,-6.8],[34.7,-7.5],[31,-7.7],[32.3,-8],[33.6,-7.7],[35,-6.6],[28.1,-8.9],[31,-9.1],[32.3,-9.1],[33.9,-8.9],[35.2,-9.4],
[25.6,-10.5],[28.8,-11],[30.2,-10.5],[31.5,-10.8],[32.8,-10.8],[35.1,-11.6],[37.7,-11.5],[30.4,-12.2],[31.8,-12.2],[33.1,-11.9],[34.4,-13.5],[36.6,-13.3],[37.9,-13.8],[39.9,-15.1],
[26.7,-13],[25.3,-14.1],[27.2,-14.6],[28.3,-15.7],[28.8,-17.5],[31,-14.6],[32.6,-14.6],[33.9,-14.6],[35.5,-14.6],[37.1,-14.9],[24.3,-15.2],[25.6,-16.6],[24.5,-17.9],[25.9,-18.5],
[31.8,-16.3],[33.4,-16.3],[35,-16.3],[36.9,-16.3],[37.9,-15.7],[34.2,-17.7],[36.6,-17.8],[37.9,-17.1],[32.8,-18.8],[35.8,-19.2],[27.2,-19.6],[28.4,-19.6],[24.3,-19.6],[25.6,-20.2],[29.2,-21],[26.9,-21],[24.5,-21.3],
[26.1,-14],[26.5,-15.5],[25.1,-18.7],[27.8,-18.3],[26.4,-19.8],[25.1,-23.3],[31.9,-15.5],[33.5,-15.5],[35.2,-15.5],[36.8,-15.6],[32.5,-17.2],[34.8,-17.1],[35.9,-18],[31,-11.5],[32.4,-11.4],[31,-10],[32.2,-9.9],
[31.4,-21.3],[33.1,-21],[34.2,-21.8],[35,-22.9],[32.3,-24],[36.5,-23.1],[34.9,-24.2],[27.5,-22.6],[26.1,-23.2],[25.3,-24.3],[26.7,-25.1],[28,-25.4],[29.2,-24],[25.6,-25.9],[27.6,-26.5],[29.3,-27.3],[24.5,-27.5],
[32.3,-25.4],[33.6,-25.9],[32.3,-26.8],[33.6,-27.3],[32.8,-28.4],[35.2,-28.8],[31.2,-29],[30.1,-29.5],[28.8,-29.8],[27.2,-30.4],[25.3,-29.8],[24.5,-30.4],[26.1,-31.5],[24.8,-31.8],[27.6,-32.8],[24.3,-34.8],[24.5,-33.1],
[25.5,-27],[26.5,-27],[25,-28.6],[26.3,-29.9],[28,-30.6],[29.5,-29.9],[25.5,-30.9],[26.5,-32.4],[25.6,-33],[25,-32.5],[33,-26.6],[32,-27.8],[33.3,-28.8],[32,-29.9],
[45.7,-5.8],[44.4,-6.9],[46.5,-6.9],[48.4,-6.6],[49.7,-7.2],[43.3,-9.1],[44.9,-8.3],[47,-8.3],[48.7,-8.3],[50.3,-8.8],[41.4,-9.1],[44.4,-10],[46.8,-9.7],[48.4,-10],[46.5,-11.1],[47.8,-11.1],[49.5,-11.3],[43,-12.7],[44.4,-13],[46.2,-12.4],[47.6,-12.4],[44.6,-13.8],[46,-13.8],
[44.3,-7.6],[45.7,-7.6],[47.6,-7.5],[49,-7.5],[45.7,-9],[47.8,-9],[49.4,-9.3],[47.5,-10.5],[45.5,-12.2],[45,-12.7],[48.1,-11.9],[49.7,-12.3],[52,-14.3],[51,-14.7],
[51.3,-11.9],[52.4,-13],[53.9,-14.1],[52.9,-15.5],[51.6,-15.5],[50.5,-16.3],[49.5,-13.5],[48.9,-14.9],[50,-14.4],[50.3,-13],
[40.9,-16.9],[42.1,-16.3],[45.2,-16.3],[39.8,-18.2],[41.1,-18.2],[42.5,-18.2],[43.8,-17.9],[45.2,-18.5],[47.3,-17.9],[48.7,-17.4],[50,-18.2],[38.2,-19],[40.9,-19.6],[42.2,-19.6],[43.6,-19.6],[44.9,-19.6],[46.5,-19.6],[47.8,-19.3],[49.2,-19],
[39.3,-20.2],[40.9,-21.3],[43.6,-21.3],[44.9,-21.8],[46.2,-21.3],[47.6,-21.5],[50.5,-20.7],[52.4,-20.7],[48.4,-21.5],[49.5,-22.4],[51.1,-22.1],[52.7,-22.1],[54.4,-23.1],[46,-22.9],[47.3,-23.5],[48.7,-23.7],[50.3,-23.7],[51.6,-23.5],[52.9,-23.7],[48.7,-25.1],[52.7,-25.1],
[41.6,-17.4],[43.1,-17.4],[44.5,-17.3],[46.1,-18.6],[47.6,-18.7],[49,-18.4],[41.6,-18.9],[43,-18.9],[44.3,-18.9],[45.7,-19],[47.1,-19],[48.6,-19],[41.8,-20.4],[43.2,-20.4],[44.6,-20.7],[46.2,-20.5],[47.7,-20.4],[49.3,-20.2],[42.2,-22],[47.9,-22.6],[49.5,-23],[51.1,-22.9],[52.3,-22.9],[50.7,-24.8],[51.6,-24.7],[41.5,-24.2],[43,-24.3],[40.5,-25.4],
[39.2,-21],[40.2,-20.4],[41.8,-21.6],[43,-22.3],[45.3,-20.7],[45.3,-22.8],[46.6,-24],[47.7,-24.8],[50,-25],[51.5,-25.6],[53.5,-22.4],[40,-23.6],[44,-23.4],[45.2,-24.5],[43.4,-25.3],
[40.9,-23.5],[42.2,-23.7],[44.4,-24.6],[39.8,-24.6],[41.1,-24.9],[42.5,-24.9],[39,-25.7],[41.1,-26.2],[42.8,-25.7],[44.4,-26.2],[46,-25.1],
[-14.7,-4.3],[-12.2,-5.9],[-9.1,-6.7],[-9.6,-7.3],[-12.3,-2.2],[-10.7,-2.2],[-12.3,-3.8],[-10.7,-3.6],[-9.1,-3.8],[-7.5,-4.1],[-5.9,-3.6],[-4.6,-3.6],[-5.2,-0.7],[-9.9,-5],[-8.3,-5],[-6.4,-5],[-5.1,-5.8],[-5.9,-7.4],[-4.3,-7.2],[-3.2,-8],[-4.4,-9.2],
[-11.5,-2.9],[-10,-2.9],[-8.5,-3],[-11.3,-4.4],[-9.3,-4.4],[-7.2,-4.5],[-5.5,-4.4],[-4.8,-4.6],[-5.3,-2.6],
[-11,-5],[-9.8,-6],[-8.3,-6.3],[-7,-6],[-6.5,-6.7],[-6.8,-3.5],[-3.5,-6.3],[-3.9,-5.4],[-2.7,-6.6],[-0.7,-4.4],[-0.3,-6.5],[-0.1,-3.3],
[-0.3,-1.5],[0.8,-2.7],[-2.9,-4.7],[-1.1,-3.6],[-2.1,-5.5],[-1.1,-5.2],[1.3,-3.8],[2.7,-3.6],[4.3,-3.6],[0.8,-5.5],[2.4,-5.2],[4,-5.2],[5.4,-4.7],[0.3,-7.1],[1.9,-6.9],[3.5,-6.9],[5.1,-6.6],[7,-6.3],[7.4,-5.2],[3,-8.5],[4.3,-8.5],[6.4,-7.4],[4,-9.9],[3,-9.8],
[1.6,-4.5],[3.3,-4.5],[1.3,-6.2],[3,-6],[4.5,-6],[6,-5.8],[2.4,-7.8],[4,-7.8],[5.4,-7.7],[3.7,-9.2],
[8.2,-5.5],[9.5,-5],[12.4,-5.6],[13.5,-6.2],[8.3,-8.4],[7.7,-9],[5.5,-9.2],[15.3,-7.6],[15.8,-9],[17.2,-9.6],[18.3,-10.2],[15.2,-10.3],[14,-10.2],[12.4,-10.2],[13,-11.7],[14.8,-11.5],[18.8,-11.5],[17.8,-11.5],[19.5,-12.4],[21,-12.8],[23.8,-12.8],[11.8,-12.8],[12.5,-13.6],[16,-13],[18.6,-13],[11,-14],[12.8,-14.5],[10.6,-15],[11.2,-17.8],[10.5,-16.5],[12,-18.6],[14.2,-18.8],
[7.4,-1.8],[8.7,-3.7],[11.4,-3.6],[11.5,-5.2],[9.4,-6.3],[10.7,-6],[9.1,-7.7],[10.5,-7.7],[12,-7.4],[13.7,-7.2],[9.1,-9.1],[10.5,-9.1],[12,-8.8],[14,-8.8],[10.5,-10.5],[9.1,-11.3],[11,-11.7],[9.5,-13.6],
[10,-4.9],[10.1,-6.9],[11.2,-6.8],[11.3,-8.2],[13,-8],[9.8,-8.4],[11.2,-9.6],[12.9,-6.3],[14.7,-3.8],[15,-6.3],[16.6,-3],[18.8,-7.1],[20.2,-6.6],[21.9,-6.2],[23.8,-5.5],[24.2,-3.6],[18.2,-8.8],[19.8,-8.8],[21.7,-8.3],[23.8,-8.2],[20.2,-10.5],[22,-10.6],[24,-10.4],[21.9,-12],
[14,-2.7],[15.8,-2.5],[13.4,-5],[14.8,-5],[16.1,-4.1],[16.9,-5.5],[20.5,-0.5],[18.5,-3.6],[18.2,-6.3],[19.8,-5.8],[21.5,-5.2],[23.1,-4.4],[24.7,-2.5],[25,-4.4],[17.4,-8],[19,-8],[20.6,-7.4],[22.3,-7.2],[24.7,-6.6],[19.6,-9.6],[20.9,-9.9],[23.1,-9.4],[25.2,-10.7],[20.6,-11.3],[16.5,-11.8],[23.1,-11.8],
[-1.7,-12.1],[-4.6,-13],[-3.8,-14.3],[-1.3,-15],[-3.2,-15.7],[-1.9,-16.5],[-4.6,-17.4],[0.5,-16.8],[-3,-17.9],[-1.1,-17.9],[-2.7,-19.3],
[-1.2,-13.5],[-3,-13],[-2.7,-14.5],[-2.2,-18.7],[-3.7,-16.7],[-2.6,-17],[-1.1,-19.5],
[1.9,-13],[3.5,-12.7],[1.9,-14.3],[3.5,-14.3],[5.1,-12.4],[6.7,-13],[5.9,-10.7],[7.2,-11],[4.8,-13.8],[6.4,-14],[3,-16.3],[4.3,-16.5],[5.9,-16.3],[7.5,-16.3],[4.8,-17.9],[6.4,-17.9],[8,-17.4],
[2.7,-13.6],[4.4,-13.4],[5.8,-13.3],[3.7,-15.3],[5.3,-15.2],[6.9,-15.2],[3.7,-17.2],[5.5,-17.1],[7.2,-17.1],[2.6,-18.8],[4.1,-18.6],[5.6,-18.7],[7,-18.6],[3,-20.3],[4.3,-20.2],[5.7,-20.3],[7.2,-19.9],[3.7,-22.3],[5.3,-22.1],
[9.3,-17],[9.9,-17.8],[8.9,-18.8],[8.8,-14.5],[8,-14.3],[8.4,-12.4],[9.3,-12.5],[10.1,-12.7],
[1.9,-19.6],[3.2,-19.6],[4.8,-19.3],[6.4,-19.6],[7.8,-18.7],[2.2,-21.8],[3.5,-21],[4.8,-21.5],[6.4,-21],[6.3,-22.7],[10.1,-19.4],
[11.5,-16.5],[13.1,-15.4],[14.7,-16.5],[16.4,-16],[18,-15.4],[19.6,-16],[21.2,-15.4],[22.8,-16],[24.7,-16],[12,-15.2],[12.6,-19.6],[15.3,-18.5],[18,-17.9],[23.6,-18.7],[25,-18.2],[15,-14.1],[17.7,-13.8],[20.4,-13.5],[22.3,-13.8],[14,-13],
[12.3,-16.1],[13.8,-16.1],[15.5,-16.2],[17.2,-15.7],[18.8,-15.7],[20.4,-15.7],[22,-15.7],[23.7,-15.8],[25.3,-15.3],[14,-14.9],[16.3,-14.9],[18.8,-14.7],[21.2,-14.6],[23.3,-14.7],[13.5,-17.8],[16.6,-17.2],[19.3,-17.3],[21.8,-17.2],[24.2,-17.2],[16.8,-18.8],[22.9,-18.9],[17.6,-22.6],[19.4,-22.8],[21.3,-23.2],[22.9,-22.9],[24.2,-23],[19.2,-25.6],[20.5,-25.4],[22.2,-25.2],[16.9,-25.3],[15.6,-25.9],[14.5,-26.9],[16.2,-28.2],[20.3,-26.8],[22.2,-26.9],
[15.5,-20.6],[18.3,-20.8],[19.7,-20.8],[21.8,-21.2],[23.8,-21],[15.6,-22.4],[16.3,-23.2],[18.2,-24.4],[16,-24.3],[15,-23.5],[21.5,-24.8],[23.8,-24.5],[25.2,-25.4],[23.6,-26.5],[19,-26.5],[16.2,-24.8],
[16.1,-19.9],[17.4,-20.1],[21.2,-20.4],[22.8,-20.4],[24.7,-20.1],[16.9,-21.8],[18.5,-21.8],[20.1,-21.8],[21.2,-22.3],[23.1,-22],[25.1,-22],
[13.4,-22.9],[12.1,-23.1],[14,-24.3],[17.2,-23.4],[18.8,-23.1],[20.1,-24.3],[22,-23.7],[23.3,-23.7],[24.9,-24.5],[14.5,-25.9],[18,-25.6],[21.2,-26.5],[23.1,-25.1],[19.6,-27.3],[21,-27.6],[24.5,-27.4],[13.1,-26.5],
[16.9,-26.7],[15.6,-27.3],[14.5,-28.1],[17.4,-27.8],[16.4,-29.5],[14.6,-29.5],[22.3,-28.1],[23.3,-29.5],[18.8,-29.9],[18.5,-31.2],[17.4,-31.7],[19.3,-32],[25,-29.8],[23.1,-31.1],[24.7,-31.4],[21.7,-33.4],[24,-34.5],
[4.6,-28.1],[6.4,-28.7],[5.1,-29.8],[6.7,-30.1],[8.3,-29.5],[9.4,-30.6],[11,-30.9],[12.6,-30.6],[14.2,-30.6],[4.6,-31.4],[6.2,-31.4],[7.8,-31.1],[9.4,-32],[11,-32.3],[12.9,-32.3],[14.5,-32],[3,-32.8],[4.6,-33.1],[6.2,-33.1],[7.8,-32.5],[10.5,-33.6],[12.1,-33.6],[13.7,-33.6],[15,-33.4],[16.9,-32.8],[3.8,-34.5],[5.4,-34.5],[7,-34.5],[8.6,-34.7],[10.5,-35],[13.7,-35],[15.3,-34.7],[16.9,-34.2],[4.6,-35.8],[3,-37],[10.5,-36.4],[13.7,-36.7],[15,-37.2],[16.8,-36.8],[10.2,-37.5],[13.4,-37.5],[14.5,-37.5],
[5.4,-29.3],[7.1,-29.2],[6,-30.7],[7.6,-30.4],[9.8,-31.3],[11.8,-31.6],[13.3,-31.4],[5.3,-32.2],[6.9,-32],[8.4,-31.8],[10,-33],[11.6,-33],[13,-33],[14.4,-33],[4,-33.8],[5.4,-33.7],[6.9,-33.7],[8.3,-33.9],[11,-34.3],[12.6,-34.3],[14.4,-34.3],[15.9,-33.4],[5.2,-35.7],[6.7,-35.6],[8.2,-35.5],[14.6,-36],[15.9,-36],
[13.8,-37],[15,-35.8],[11.7,-36],[5.8,-36.9],[7.3,-36],[9.3,-36.3],[12.4,-35.8],[4.8,-36.9],[15.1,-31.4],[16,-30.6],[17.4,-33.2],[17.7,-30.5],[17.9,-32.8],
[-15.3,-19.6],[-13.9,-19.8],[-12.6,-19.6],[-11,-19.8],[-10.9,-18.6],[-9.1,-18.2],[-16.4,-21.5],[-15.3,-21],[-13.7,-20.7],[-12.3,-20.4],[-11,-21.6],[-9.4,-20.7]
];

const viralPoints = [
[-62,-4.6],[-49.6,-4.5],[-67.8,-8.2],[-69.7,-13],[-69.4,-15.4],[-69.4,-17.6],[-67.9,-20],[-52.6,-10.6],[-54.7,-11.9],[-58.7,-24],[-55.5,-26.3],[-52.3,-29.7],[-48.9,-30.6],[-56.4,-33.9],[-57,-35],[-52.2,-36],[-46.2,-34.9],[-45.2,-40.4],[-44.3,-42.5],[-28.4,0.6],[-32,-15],
[-58.5,-5.8],[-56.8,-5.5],[-55.2,-6.3],[-53.8,-7.2],[-59.9,-6.9],[-58.2,-7],[-56.4,-7],[-54.7,-7.4],[-60.4,-8.3],[-58.7,-8.4],[-57,-8.4],[-55.2,-8.7],[-53.6,-8.8],[-60.4,-9.6],[-58.7,-9.8],[-57,-9.8],[-55.4,-10.1],[-53.6,-9.5],[-60.3,-11],[-58.5,-11.2],[-56.8,-11.3],
[-59.3,-6.3],[-57.5,-6.3],[-55.8,-7],[-59.5,-7.7],[-57.8,-7.7],[-56,-7.9],[-54.4,-8.1],[-59.5,-9],[-57.8,-9.1],[-56.2,-9.3],[-54.5,-9.5],[-59.4,-10.4],[-57.7,-10.5],[-56,-10.8],[-61,-9],[-63,-9.3],[-64.6,-9.3],[-66,-10.5],[-64.4,-10.9],[-62.6,-10.9],[-60.9,-11.9],[-59.3,-11.9],[-57.5,-12],[-67.8,-12.2],[-66.3,-12.2],[-64.6,-12.2],[-62.8,-12.2],[-61,-12.3],
[-62.7,-7.2],[-62,-7.2],[-63.4,-7.7],[-61.7,-8.3],[-63.4,-8.7],[-65.2,-9.1],[-66.1,-9.6],[-67.8,-10.3],[-64.5,-10.2],[-62.7,-9.9],[-62,-10.5],
[-68.7,-11.6],[-66.9,-11.6],[-65.2,-11.6],[-63.4,-11.6],[-61.7,-11.6],[-67.5,-12.8],[-65.7,-12.8],[-64,-12.8],[-62.2,-12.8],[-60.4,-12.8],[-58.7,-12.8],[-56.8,-12.8],
[-68.5,-14.1],[-66.8,-14.1],[-65,-14.1],[-63.3,-14.1],[-61.5,-14.1],[-59.8,-14.1],[-58,-14.1],[-68,-15.3],[-66.2,-15.3],[-64.5,-15.3],[-62.7,-15.3],[-61,-15.3],[-59.2,-15.3],[-57.5,-15.3],
[-67.6,-13.4],[-65.9,-13.4],[-64.1,-13.4],[-62.4,-13.4],[-60.6,-13.4],[-58.9,-13.4],[-57.4,-13.4],[-67.4,-14.7],[-65.6,-14.7],[-63.9,-14.7],[-62.1,-14.7],[-60.4,-14.7],[-58.6,-14.7],[-66.8,-15.9],[-65.1,-15.9],[-63.3,-15.9],[-61.6,-15.9],[-59.8,-15.9],[-58.1,-15.9],[-66.6,-17.1],[-64.8,-17.1],[-63,-17.1],[-61.2,-17.1],[-59.5,-17.1],[-66,-18.4],[-64.3,-18.4],[-62.5,-18.4],[-60.8,-18.4],[-59,-18.4],[-65.3,-19.6],[-62,-19.6],[-60.3,-19.6],[-65,-20.9],[-63.2,-20.9],[-61.6,-20.9],
[-67.5,-16.5],[-65.7,-16.5],[-64,-16.5],[-62.2,-16.5],[-60.4,-16.5],[-58.7,-16.5],[-66.9,-17.8],[-65.2,-17.8],[-63.4,-17.8],[-61.7,-17.8],[-59.9,-17.8],[-66.6,-19],[-62.9,-19],[-61.1,-19],[-59.6,-19],
[-65.9,-20.3],[-64.1,-20.3],[-62.4,-20.3],[-61,-20.3],[-65.2,-21.5],[-63.8,-21.5],[-60.8,-21.5],[-58.5,-21.2],[-57.1,-21.9],[-55.2,-21.4],[-53.3,-21.2],[-52.6,-22.3],[-52.2,-23.4],
[-53.8,-14.9],[-52.2,-15.2],[-51.2,-15.7],[-49.9,-16.4],[-50.8,-17.2],[-52.2,-16.5],[-53.8,-16.3],[-55,-17.4],[-53.3,-17.6],[-51.9,-18.5],[-56.1,-17.9],[-57,-19],[-54.7,-18.8],[-53.3,-19.3],[-54,-20.1],[-53,-20.4],
[-55.5,-18.2],[-52.8,-16],[-53,-14.8],[-51.7,-16.8],[-50.9,-16],[-53.7,-18.5],[-52.6,-19.2]
];

const colors = ['rgba(31,119,180,0.78)', 'rgba(214,39,40,0.78)', 'rgba(227,119,194,0.78)', 'rgba(23,190,207,0.78)'];

// legend box inside the plot, Chart.js has no framed legend
const boxLegend = {
    id: 'boxLegend',
    afterDraw(chart) {
        const ctx = chart.ctx;
        ctx.save();
        ctx.beginPath();
        ctx.roundRect(228, 63, 601, 270, 6);
        ctx.fillStyle = 'rgba(255,255,255,0.8)';
        ctx.fill();
        ctx.strokeStyle = '#d4d4d4';
        ctx.lineWidth = 2;
        ctx.stroke();
        ctx.font = '42px "Liberation Serif"';
        ctx.textBaseline = 'middle';
        chart.data.datasets.forEach((ds, i) => {
            const y = 99 + i * 64;
            ctx.beginPath();
            ctx.arc(285, y, 14.5, 0, Math.PI * 2);
            ctx.fillStyle = ds.backgroundColor;
            ctx.fill();
            ctx.fillStyle = '#1a1a1a';
            ctx.fillText(ds.label, 361, y + 1);
        });
        ctx.restore();
    },
};

// frame and axis titles, the t is italic like a math label
const frameAndTitles = {
    id: 'frameAndTitles',
    afterDraw(chart) {
        const { ctx, chartArea: a } = chart;
        ctx.save();
        ctx.strokeStyle = '#111';
        ctx.lineWidth = 2.5;
        ctx.strokeRect(a.left, a.top, a.right - a.left, a.bottom - a.top);

        const drawTitle = (rest) => {
            ctx.font = 'italic 54px "Liberation Serif"';
            const w1 = ctx.measureText('t').width;
            ctx.font = '50px "Liberation Serif"';
            const w2 = ctx.measureText(rest).width;
            const start = -(w1 + w2) / 2;
            ctx.font = 'italic 54px "Liberation Serif"';
            ctx.fillText('t', start, 0);
            ctx.font = '50px "Liberation Serif"';
            ctx.fillText(rest, start + w1, 0);
        };
        ctx.fillStyle = '#1a1a1a';
        ctx.textBaseline = 'alphabetic';
        ctx.textAlign = 'left';
        ctx.translate((a.left + a.right) / 2, 1760);
        drawTitle('-SNE Dimension 1');
        ctx.setTransform(1, 0, 0, 1, 0, 0);
        ctx.translate(76, (a.top + a.bottom) / 2);
        ctx.rotate(-Math.PI / 2);
        drawTitle('-SNE Dimension 2');
        ctx.restore();
    },
};

const tickText = (v) => (v < 0 ? '\u2212' + Math.abs(v) : String(v));

new Chart(document.getElementById('chart'), {
    type: 'scatter',
    data: {
        datasets: [covidPoints, opacityPoints, normalPoints, viralPoints].map((pts, i) => ({
            label: seriesLabels[i],
            data: pts.map(([x, y]) => ({ x, y })),
            backgroundColor: colors[i],
            pointRadius: 14.5,
            pointBorderWidth: 0,
            order: 4 - i,
        })),
    },
    options: {
        responsive: false,
        animation: false,
        devicePixelRatio: 1,
        layout: { padding: { top: 42, right: 40, left: 0, bottom: 0 } },
        plugins: { legend: { display: false }, tooltip: { enabled: false } },
        scales: {
            x: {
                min: -76,
                max: 64.6,
                afterBuildTicks: (s) => { s.ticks = xTicks.map((value) => ({ value })); },
                afterFit: (s) => { s.height = 167; },
                grid: { drawOnChartArea: false, tickLength: 15, tickColor: '#111', tickWidth: 2.5 },
                border: { color: '#111', width: 2.5 },
                ticks: { color: '#1a1a1a', padding: 8, maxRotation: 0, font: { family: '"Liberation Serif"', size: 38 }, callback: tickText },
            },
            y: {
                min: -47.7,
                max: 58.2,
                afterBuildTicks: (s) => { s.ticks = yTicks.map((value) => ({ value })); },
                afterFit: (s) => { s.width = 207; },
                grid: { drawOnChartArea: false, tickLength: 15, tickColor: '#111', tickWidth: 2.5 },
                border: { color: '#111', width: 2.5 },
                ticks: { color: '#1a1a1a', padding: 16, font: { family: '"Liberation Serif"', size: 38 }, callback: tickText },
            },
        },
    },
    plugins: [boxLegend, frameAndTitles],
});
</script>
</body>
</html>
